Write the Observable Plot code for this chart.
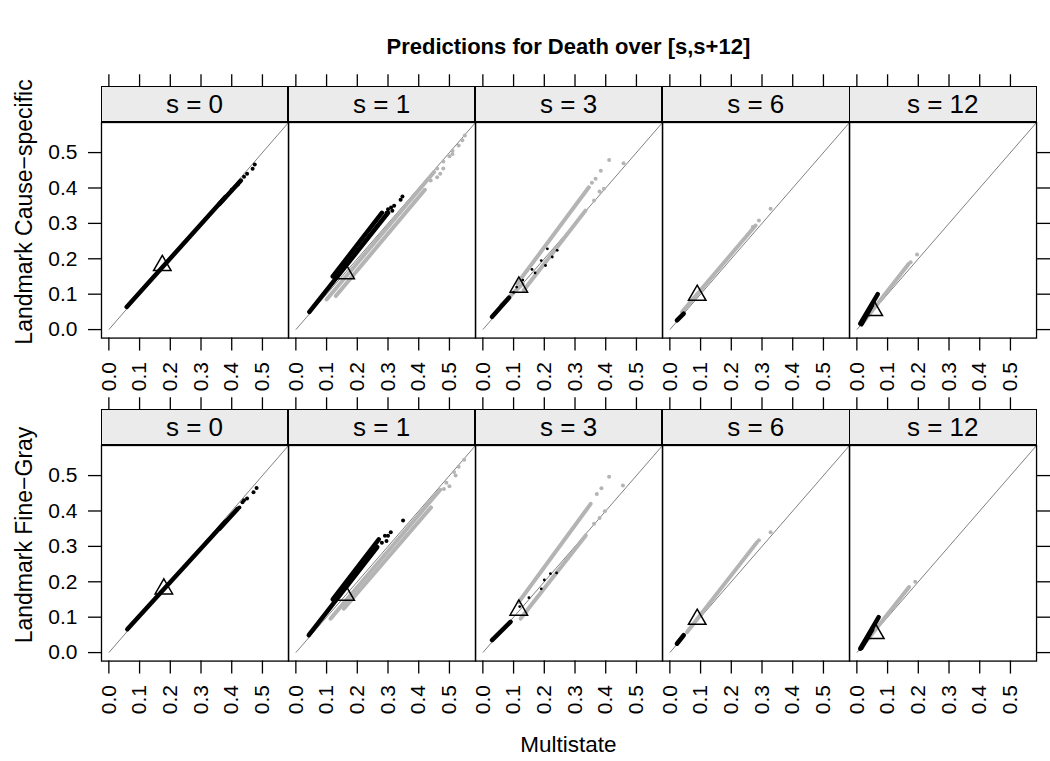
<!DOCTYPE html>
<html><head><meta charset="utf-8">
<script src="https://cdn.jsdelivr.net/npm/d3@7"></script>
<script src="https://cdn.jsdelivr.net/npm/@observablehq/plot@0.6"></script>
<style>
body{margin:0;background:#fff;}
#root{position:relative;width:1050px;height:761px;font-family:"Liberation Sans",Arial,Helvetica,sans-serif;color:#000;overflow:hidden;background:#fff}
.strip{position:absolute;background:#ebebeb;border:1.3px solid #000;box-sizing:border-box;display:flex;align-items:center;justify-content:center;font-size:26px;line-height:1}
.lbl{position:absolute;white-space:nowrap;line-height:1}
#root svg{position:absolute}
#root svg text{font-family:"Liberation Sans",Arial,Helvetica,sans-serif;fill:#000}
</style></head><body><div id="root"></div>
<script>
// ---------- data ----------
const sValues = [0, 1, 3, 6, 12];
const stripLabels = ["s = 0", "s = 1", "s = 3", "s = 6", "s = 12"];
const models = ["Landmark Cause\u2212specific", "Landmark Fine\u2212Gray"];
const axisTicks = [0, 0.1, 0.2, 0.3, 0.4, 0.5];
const axisDomain = [-0.024, 0.585];
const diagonal = [0, 0.6];

// dense runs of predictions: [s, xStart, yStart, xEnd, yEnd]
const csBlackRuns = [
  [0, 0.058, 0.064, 0.38, 0.375], [0, 0.36, 0.355, 0.43, 0.421],
  [1, 0.044, 0.050, 0.30, 0.33], [1, 0.12, 0.15, 0.28, 0.33],
  [3, 0.030, 0.036, 0.085, 0.09],
  [6, 0.023, 0.026, 0.045, 0.045],
  [12, 0.011, 0.017, 0.068, 0.10], [12, 0.015, 0.015, 0.05, 0.07]
];
const csBlackPoints = [
  [0, 0.40, 0.395], [0, 0.42, 0.41], [0, 0.44, 0.432], [0, 0.45, 0.44], [0, 0.468, 0.454], [0, 0.475, 0.466],
  [1, 0.295, 0.33], [1, 0.30, 0.34], [1, 0.31, 0.345], [1, 0.314, 0.336], [1, 0.32, 0.35], [1, 0.341, 0.367], [1, 0.347, 0.376],
  [3, 0.10, 0.105], [3, 0.11, 0.12], [3, 0.13, 0.14], [3, 0.16, 0.17], [3, 0.19, 0.195], [3, 0.21, 0.228],
  [3, 0.226, 0.205], [3, 0.204, 0.181], [3, 0.242, 0.224], [3, 0.17, 0.16]
];
const csGrayRuns = [
  [1, 0.10, 0.085, 0.45, 0.445], [1, 0.13, 0.095, 0.42, 0.395],
  [3, 0.112, 0.130, 0.345, 0.402], [3, 0.133, 0.111, 0.334, 0.336], [3, 0.06, 0.07, 0.13, 0.13],
  [6, 0.04, 0.05, 0.279, 0.294],
  [12, 0.017, 0.017, 0.169, 0.186]
];
const csGrayPoints = [
  [1, 0.46, 0.455], [1, 0.48, 0.475], [1, 0.50, 0.49], [1, 0.51, 0.505], [1, 0.53, 0.52], [1, 0.542, 0.535],
  [1, 0.55, 0.548], [1, 0.439, 0.421], [1, 0.46, 0.43], [1, 0.48, 0.455], [1, 0.51, 0.496], [1, 0.47, 0.44],
  [3, 0.367, 0.426], [3, 0.384, 0.449], [3, 0.411, 0.479], [3, 0.362, 0.365], [3, 0.38, 0.39], [3, 0.394, 0.398],
  [3, 0.458, 0.470], [3, 0.355, 0.415],
  [6, 0.29, 0.308], [6, 0.328, 0.341], [6, 0.27, 0.29],
  [12, 0.175, 0.19], [12, 0.196, 0.212]
];
const fgBlackRuns = [
  [0, 0.06, 0.066, 0.38, 0.37], [0, 0.36, 0.35, 0.419, 0.406],
  [1, 0.042, 0.049, 0.265, 0.298], [1, 0.12, 0.15, 0.27, 0.32],
  [3, 0.03, 0.035, 0.09, 0.087],
  [6, 0.023, 0.025, 0.045, 0.049],
  [12, 0.011, 0.011, 0.071, 0.10], [12, 0.015, 0.013, 0.05, 0.065]
];
const fgBlackPoints = [
  [0, 0.425, 0.41], [0, 0.435, 0.425], [0, 0.44, 0.43], [0, 0.45, 0.435], [0, 0.471, 0.453], [0, 0.481, 0.465],
  [1, 0.28, 0.31], [1, 0.29, 0.33], [1, 0.30, 0.33], [1, 0.309, 0.34], [1, 0.295, 0.315], [1, 0.349, 0.373],
  [3, 0.15, 0.155], [3, 0.19, 0.18], [3, 0.2, 0.205], [3, 0.22, 0.223], [3, 0.24, 0.225], [3, 0.12, 0.13]
];
const fgGrayRuns = [
  [1, 0.113, 0.096, 0.47, 0.46], [1, 0.156, 0.124, 0.44, 0.41],
  [3, 0.117, 0.143, 0.351, 0.42], [3, 0.123, 0.096, 0.335, 0.331],
  [6, 0.056, 0.058, 0.284, 0.312],
  [12, 0.017, 0.017, 0.17, 0.185]
];
const fgGrayPoints = [
  [1, 0.482, 0.462], [1, 0.49, 0.48], [1, 0.50, 0.47], [1, 0.515, 0.51], [1, 0.53, 0.525], [1, 0.548, 0.545], [1, 0.52, 0.5],
  [3, 0.371, 0.448], [3, 0.386, 0.464], [3, 0.411, 0.497], [3, 0.362, 0.364], [3, 0.38, 0.38], [3, 0.397, 0.399], [3, 0.456, 0.472],
  [6, 0.29, 0.317], [6, 0.328, 0.340],
  [12, 0.19, 0.2]
];
// average prediction (triangle): [s, multistate, landmark]
const csMean = [[0, 0.174, 0.181], [1, 0.162, 0.158], [3, 0.117, 0.120], [6, 0.089, 0.097], [12, 0.055, 0.054]];
const fgMean = [[0, 0.179, 0.180], [1, 0.162, 0.162], [3, 0.117, 0.120], [6, 0.089, 0.094], [12, 0.060, 0.054]];

const rowsData = [
  {blackRuns: csBlackRuns, blackPts: csBlackPoints, grayRuns: csGrayRuns, grayPts: csGrayPoints, mean: csMean},
  {blackRuns: fgBlackRuns, blackPts: fgBlackPoints, grayRuns: fgGrayRuns, grayPts: fgGrayPoints, mean: fgMean}
];

// ---------- layout ----------
const root = document.getElementById("root");
const PL = 100.7, PW = 187.06, STRIPH = 35.7, PH = 215.6;
const stripTops = [86, 409];
const ML = 110, MR = 30, MT = 60, MB = 80;
const FONT = '"Liberation Sans", Arial, Helvetica, sans-serif';
const GRAY = "#b4b4b4";
const TICKFONT = 21;
const fmt = d3.format(".1f");

function addLabel(text, css) {
  const d = document.createElement("div");
  d.className = "lbl";
  d.textContent = text;
  Object.assign(d.style, css);
  root.appendChild(d);
}

rowsData.forEach((rd, r) => {
  sValues.forEach((s, c) => {
    const left = PL + c * PW;
    const panelTop = stripTops[r] + STRIPH;
    const seg = a => a.filter(d => d[0] === s).map(d => ({x1: d[1], y1: d[2], x2: d[3], y2: d[4]}));
    const pts = a => a.filter(d => d[0] === s).map(d => ({x: d[1], y: d[2]}));
    const marks = [
      Plot.link([diagonal], {x1: d => d[0], y1: d => d[0], x2: d => d[1], y2: d => d[1], stroke: "#808080", strokeWidth: 1, clip: true}),
      Plot.link(seg(rd.grayRuns), {x1: "x1", y1: "y1", x2: "x2", y2: "y2", stroke: GRAY, strokeWidth: 4, strokeLinecap: "round"}),
      Plot.dot(pts(rd.grayPts), {x: "x", y: "y", r: 2, fill: GRAY}),
      Plot.link(seg(rd.blackRuns), {x1: "x1", y1: "y1", x2: "x2", y2: "y2", stroke: "#000", strokeWidth: 4.5, strokeLinecap: "round"}),
      Plot.dot(pts(rd.blackPts), {x: "x", y: "y", r: s === 3 ? 1.4 : 2, fill: "#000"}),
      Plot.dot(pts(rd.mean), {x: "x", y: "y", symbol: "triangle", r: 6.5, stroke: "#000", strokeWidth: 1.5, fill: "none"}),
      Plot.frame({stroke: "#000", strokeWidth: 1.3}),
      Plot.axisX({anchor: "bottom", ticks: axisTicks, tickSize: 13, tickPadding: 11, tickRotate: -90, tickFormat: fmt, label: null, strokeWidth: 1.3, fontSize: TICKFONT}),
      Plot.axisX({anchor: "top", ticks: axisTicks, tickSize: 13, dy: -STRIPH, tickFormat: () => "", label: null, strokeWidth: 1.3})
    ];
    if (c === 0) marks.push(Plot.axisY({anchor: "left", ticks: axisTicks, tickSize: 13, tickPadding: 11, tickFormat: fmt, label: null, strokeWidth: 1.3, fontSize: TICKFONT}));
    if (c === sValues.length - 1) marks.push(Plot.axisY({anchor: "right", ticks: axisTicks, tickSize: 13, tickFormat: () => "", label: null, strokeWidth: 1.3}));
    const svg = Plot.plot({
      width: ML + PW + MR, height: MT + PH + MB,
      marginLeft: ML, marginRight: MR, marginTop: MT, marginBottom: MB,
      x: {domain: axisDomain, axis: null},
      y: {domain: axisDomain, axis: null},
      style: {background: "transparent", overflow: "visible", fontSize: TICKFONT + "px", fontFamily: FONT, color: "#000"},
      marks
    });
    svg.style.left = (left - ML) + "px";
    svg.style.top = (panelTop - MT) + "px";
    svg.style.maxWidth = "none";
    root.appendChild(svg);
    // strip
    const st = document.createElement("div");
    st.className = "strip";
    st.textContent = stripLabels[c];
    Object.assign(st.style, {left: left + "px", top: stripTops[r] + "px", width: (PW + 0.6) + "px", height: (STRIPH + 0.6) + "px"});
    root.appendChild(st);
  });
  // row label
  addLabel(models[r], {left: "24px", top: (stripTops[r] + (STRIPH + PH) / 2) + "px", fontSize: "23px", transform: "translate(-50%,-50%) rotate(-90deg)"});
});

addLabel("Predictions for Death over [s,s+12]", {left: (PL + 2.5 * PW) + "px", top: "47px", fontSize: "22px", fontWeight: "bold", transform: "translate(-50%,-50%)"});
addLabel("Multistate", {left: (PL + 2.5 * PW) + "px", top: "745px", fontSize: "22.5px", transform: "translate(-50%,-50%)"});
</script></body></html>
